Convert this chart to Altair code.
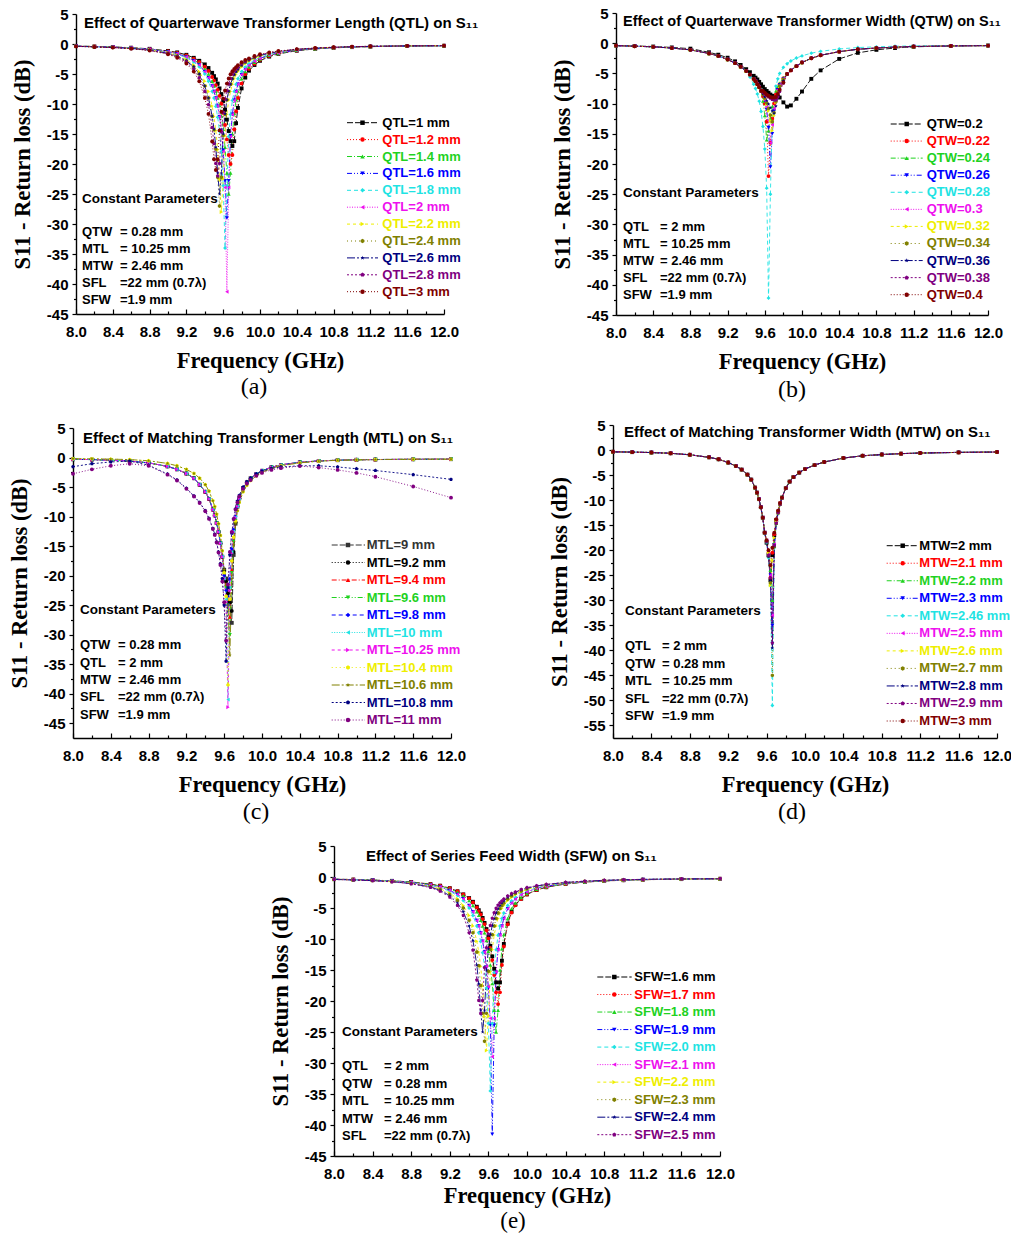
import altair as alt
import pandas as pd

# ---------------------------------------------------------------- data
FREQ = [8.0, 8.2, 8.4, 8.6, 8.8, 9.0, 9.1, 9.2, 9.28, 9.34, 9.4, 9.44, 9.48, 9.5,
        9.52, 9.54, 9.56, 9.58, 9.6, 9.62, 9.64, 9.66, 9.68, 9.7, 9.72, 9.74, 9.76,
        9.8, 9.84, 9.88, 9.94, 10.0, 10.1, 10.2, 10.4, 10.6, 10.8, 11.0, 11.2, 11.6, 12.0]
X_TICKS = [8.0, 8.4, 8.8, 9.2, 9.6, 10.0, 10.4, 10.8, 11.2, 11.6, 12.0]
X_MINOR = [8.2, 8.6, 9.0, 9.4, 9.8, 10.2, 10.6, 11.0, 11.4, 11.8]
Y_TICKS_45 = [5, 0, -5, -10, -15, -20, -25, -30, -35, -40, -45]
Y_MINOR_45 = [2.5, -2.5, -7.5, -12.5, -17.5, -22.5, -27.5, -32.5, -37.5, -42.5]
Y_TICKS_55 = [5, 0, -5, -10, -15, -20, -25, -30, -35, -40, -45, -50, -55]
Y_MINOR_55 = [2.5, -2.5, -7.5, -12.5, -17.5, -22.5, -27.5, -32.5, -37.5, -42.5, -47.5, -52.5]

# (a) Quarterwave transformer length
QTL_NAMES = ["QTL=1 mm", "QTL=1.2 mm", "QTL=1.4 mm", "QTL=1.6 mm", "QTL=1.8 mm", "QTL=2 mm",
             "QTL=2.2 mm", "QTL=2.4 mm", "QTL=2.6 mm", "QTL=2.8 mm", "QTL=3 mm"]
QTL_1 = [-0.35, -0.41, -0.5, -0.62, -0.8, -1.15, -1.4, -1.8, -2.3, -2.8, -3.4,
         -4.0, -4.8, -5.35, -5.9, -6.6, -7.4, -8.35, -9.5, -10.95, -12.6, -14.5, -16.2, -17.0, -16.2, -13.2, -10.65, -7.4, -5.6, -4.45,
         -3.5, -2.8, -2.1, -1.65, -1.12, -0.82, -0.64, -0.52, -0.44, -0.34, -0.29]
QTL_1_2 = [-0.36, -0.42, -0.51, -0.63, -0.83, -1.2, -1.47, -1.9, -2.45, -3.0, -3.8,
           -4.5, -5.5, -6.1, -6.85, -7.65, -8.65, -9.95, -11.5, -13.5, -15.9, -18.5, -20.0, -18.5, -14.2, -11.2, -9.0, -6.6, -5.0, -4.15,
           -3.3, -2.65, -2.0, -1.6, -1.08, -0.8, -0.62, -0.51, -0.43, -0.34, -0.29]
QTL_1_4 = [-0.36, -0.43, -0.52, -0.65, -0.86, -1.25, -1.55, -2.0, -2.6, -3.25, -4.2,
           -5.0, -6.2, -7.0, -7.9, -9.0, -10.25, -12.0, -14.2, -17.2, -21.5, -25.0, -21.5, -15.0, -11.6, -9.3, -7.85, -5.8, -4.6, -3.85,
           -3.05, -2.5, -1.9, -1.58, -1.05, -0.8, -0.61, -0.5, -0.42, -0.33, -0.29]
QTL_1_6 = [-0.37, -0.44, -0.53, -0.67, -0.89, -1.3, -1.62, -2.15, -2.8, -3.5, -4.6,
           -5.6, -7.0, -7.9, -9.0, -10.35, -12.1, -14.4, -17.7, -22.8, -29.0, -22.8, -15.3, -11.7, -9.35, -7.9, -6.7, -5.1, -4.2, -3.55,
           -2.85, -2.4, -1.8, -1.5, -1.02, -0.76, -0.6, -0.49, -0.41, -0.33, -0.28]
QTL_1_8 = [-0.37, -0.44, -0.54, -0.68, -0.92, -1.35, -1.7, -2.3, -3.0, -3.8, -5.0,
           -6.2, -7.9, -9.0, -10.4, -12.2, -14.5, -17.9, -23.6, -34.0, -23.6, -15.4, -11.75, -9.4, -7.9, -6.7, -5.8, -4.6, -3.85, -3.3,
           -2.67, -2.25, -1.72, -1.4, -0.98, -0.74, -0.58, -0.48, -0.4, -0.32, -0.28]
QTL_2 = [-0.37, -0.44, -0.53, -0.67, -0.89, -1.3, -1.62, -2.15, -2.8, -3.5, -4.6,
         -5.6, -7.0, -7.9, -9.0, -10.35, -12.1, -14.5, -17.9, -23.9, -41.3, -23.9, -15.4, -11.75, -9.4, -7.9, -6.7, -5.1, -4.2, -3.55,
         -2.85, -2.4, -1.8, -1.5, -1.02, -0.76, -0.6, -0.49, -0.41, -0.33, -0.28]
QTL_2_2 = [-0.38, -0.46, -0.56, -0.72, -0.99, -1.47, -1.9, -2.6, -3.5, -4.6, -6.2,
           -7.9, -10.35, -12.1, -14.4, -17.6, -22.5, -28.0, -22.5, -15.3, -11.7, -9.35, -7.9, -6.7, -5.8, -5.1, -4.6, -3.85, -3.3, -2.85,
           -2.4, -2.0, -1.6, -1.3, -0.93, -0.71, -0.56, -0.47, -0.4, -0.32, -0.28]
QTL_2_4 = [-0.39, -0.47, -0.58, -0.74, -1.03, -1.55, -2.0, -2.8, -3.8, -5.0, -7.0,
           -9.0, -12.1, -14.3, -17.5, -22.2, -27.0, -22.2, -15.2, -11.7, -9.3, -7.9, -6.7, -5.8, -5.1, -4.6, -4.2, -3.55, -3.05, -2.67,
           -2.25, -1.9, -1.55, -1.27, -0.9, -0.7, -0.55, -0.46, -0.39, -0.32, -0.28]
QTL_2_6 = [-0.39, -0.47, -0.58, -0.74, -1.03, -1.55, -2.0, -2.8, -3.8, -5.0, -7.0,
           -9.0, -12.0, -14.2, -17.2, -21.5, -25.0, -21.5, -15.0, -11.6, -9.3, -7.85, -6.7, -5.8, -5.1, -4.6, -4.2, -3.55, -3.05, -2.67,
           -2.25, -1.9, -1.55, -1.27, -0.9, -0.7, -0.55, -0.46, -0.39, -0.32, -0.28]
QTL_2_8 = [-0.4, -0.48, -0.59, -0.76, -1.07, -1.62, -2.15, -3.0, -4.2, -5.6, -7.9,
           -10.1, -13.9, -16.6, -19.9, -22.0, -19.9, -14.6, -11.4, -9.2, -7.8, -6.65, -5.75, -5.05, -4.55, -4.15, -3.85, -3.3, -2.85, -2.5,
           -2.1, -1.8, -1.45, -1.22, -0.88, -0.68, -0.54, -0.45, -0.38, -0.31, -0.28]
QTL_3 = [-0.4, -0.49, -0.6, -0.78, -1.1, -1.7, -2.3, -3.25, -4.6, -6.2, -9.0,
         -11.65, -16.25, -19.2, -21.0, -19.2, -14.4, -11.3, -9.1, -7.75, -6.6, -5.75, -5.05, -4.55, -4.15, -3.85, -3.55, -3.05, -2.67, -2.4,
         -2.0, -1.7, -1.4, -1.17, -0.85, -0.66, -0.53, -0.44, -0.38, -0.31, -0.28]

# (b) Quarterwave transformer width
QTW_NAMES = ["QTW=0.2", "QTW=0.22", "QTW=0.24", "QTW=0.26", "QTW=0.28", "QTW=0.3",
             "QTW=0.32", "QTW=0.34", "QTW=0.36", "QTW=0.38", "QTW=0.4"]
B_LEFT = [-0.4, -0.5, -0.6, -0.8, -1.1, -1.7, -2.1, -2.7, -3.3, -3.9, -4.6, -5.2, -5.9, -6.3, -6.8, -7.3, -7.9]
B_RIGHT = [-5.1, -4.5, -3.8, -3.2, -2.5, -2.0, -1.4, -1.0, -0.8, -0.65, -0.55, -0.45, -0.4]
QTW_0_2 = [-0.4, -0.45, -0.55, -0.7, -0.9, -1.5, -1.9, -2.4, -3.0, -3.6, -4.3, -4.8, -5.4, -5.7, -6.0, -6.4, -6.8,
           -7.2, -7.6, -7.9, -8.2, -8.5, -8.7, -8.8, -8.9, -8.8, -9.0, -9.8, -10.5, -10.3, -9.2, -8.0, -5.9, -4.5,
           -2.6, -1.6, -1.1, -0.8, -0.6, -0.45, -0.38]
QTW_0_22 = B_LEFT + [-8.8, -10.0, -13.0, -22.0, -16.5, -12.5, -10.0, -8.5, -7.5, -6.8, -5.8] + B_RIGHT
QTW_0_24 = B_LEFT + [-9.6, -12.0, -16.0, -14.5, -12.5, -10.5, -9.0, -7.9, -7.2, -6.6, -5.7] + B_RIGHT
QTW_0_26 = B_LEFT + [-8.6, -9.5, -11.0, -14.0, -20.5, -15.0, -11.2, -9.0, -7.7, -6.9, -5.9] + B_RIGHT
QTW_0_28 = [-0.4, -0.5, -0.6, -0.8, -1.1, -1.7, -2.1, -2.7, -3.3, -3.9, -4.6,
            -5.6, -6.8, -7.5, -8.4, -9.6, -11.3,
            -13.8, -17.5, -24.0, -42.2, -25.0, -13.0, -9.0, -7.1, -5.9, -5.0, -4.0,
            -3.4, -2.95, -2.45, -2.1, -1.65, -1.35, -0.95, -0.72, -0.6, -0.5, -0.45, -0.4, -0.37]
QTW_0_3 = B_LEFT + [-8.6, -9.4, -10.6, -12.8, -16.5, -13.5, -10.8, -8.9, -7.7, -6.9, -5.9] + B_RIGHT
QTW_0_32 = B_LEFT + [-8.5, -9.2, -10.1, -11.2, -12.8, -14.5, -12.0, -9.8, -8.2, -7.2, -6.0] + B_RIGHT
QTW_0_34 = B_LEFT + [-8.5, -9.1, -9.9, -10.8, -11.9, -13.0, -11.5, -9.6, -8.1, -7.1, -6.0] + B_RIGHT
QTW_0_36 = B_LEFT + [-8.4, -8.9, -9.5, -10.1, -10.7, -11.2, -11.6, -10.4, -8.8, -7.6, -6.2] + B_RIGHT
QTW_0_38 = B_LEFT + [-8.1, -8.4, -8.7, -8.9, -9.1, -9.3, -9.4, -9.4, -8.9, -8.0, -6.6] + B_RIGHT
QTW_0_4 = B_LEFT + [-7.9, -8.2, -8.5, -8.7, -8.9, -9.0, -9.0, -8.9, -8.4, -7.7, -6.5] + B_RIGHT

# (c) Matching transformer length
MTL_NAMES = ["MTL=9 mm", "MTL=9.2 mm", "MTL=9.4 mm", "MTL=9.6 mm", "MTL=9.8 mm", "MTL=10 mm",
             "MTL=10.25 mm", "MTL=10.4 mm", "MTL=10.6 mm", "MTL=10.8 mm", "MTL=11 mm"]
C_LEFT = [-0.3, -0.35, -0.45, -0.6, -0.9, -1.5, -2.0, -2.7, -3.5, -4.6, -5.8, -7.0, -8.8, -9.8, -11.1, -12.6, -14.5, -16.8]
C_LEFT_NARROW = [-0.2, -0.22, -0.27, -0.35, -0.55, -1.0, -1.4, -2.0, -2.7, -3.5, -4.6, -5.7, -7.3, -8.3, -9.6, -11.2, -13.2, -15.8]
C_RIGHT = [-8.3, -6.9, -5.2, -4.2, -3.5, -2.8, -2.25, -1.65, -1.25, -0.8, -0.58, -0.45, -0.38, -0.34, -0.3, -0.28]
C_RIGHT_NARROW = [-9.0, -7.6, -5.8, -4.7, -3.9, -3.1, -2.5, -1.85, -1.4, -0.9, -0.62, -0.47, -0.4, -0.35, -0.3, -0.28]
MTL_9 = C_LEFT + [-19.0, -20.5, -22.5, -24.5, -28.0, -16.5, -11.2] + C_RIGHT
MTL_9_2 = C_LEFT + [-19.2, -21.0, -23.0, -24.5, -26.0, -16.0, -11.0] + C_RIGHT
MTL_9_4 = C_LEFT + [-19.5, -21.5, -24.0, -27.0, -19.0, -14.0, -10.6] + C_RIGHT
MTL_9_6 = C_LEFT + [-19.8, -22.0, -25.0, -30.0, -19.5, -14.2, -10.7] + C_RIGHT
MTL_9_8 = C_LEFT + [-20.0, -22.5, -25.0, -20.5, -15.5, -12.2, -10.0] + C_RIGHT
MTL_10 = C_LEFT + [-20.5, -24.0, -41.0, -22.0, -16.0, -12.5, -10.1] + C_RIGHT
MTL_10_25 = C_LEFT + [-20.5, -24.5, -42.3, -22.5, -16.2, -12.6, -10.2] + C_RIGHT
MTL_10_4 = C_LEFT_NARROW + [-19.5, -23.5, -38.5, -24.0, -17.5, -13.5, -10.8] + C_RIGHT_NARROW
MTL_10_6 = C_LEFT_NARROW + [-19.0, -21.5, -25.0, -33.5, -20.5, -14.8, -11.2] + C_RIGHT_NARROW
MTL_10_8 = [-1.55, -1.05, -0.75, -0.6, -1.3, -2.8, -3.8, -5.2, -6.5, -7.6, -9.0, -10.3, -12.0, -13.0, -14.3, -16.0, -18.0, -20.5,
            -25.0, -34.5, -22.0, -16.5, -12.8, -10.4, -8.7,
            -7.4, -6.4, -5.0, -4.1, -3.5, -2.8, -2.3, -1.85, -1.6, -1.4, -1.4, -1.6, -1.9, -2.2, -2.9, -3.7]
MTL_11 = [-2.75, -2.0, -1.4, -1.05, -1.4, -2.9, -3.9, -5.3, -6.6, -7.7, -9.1, -10.4, -12.1, -13.1, -14.4, -16.1, -18.2, -21.0,
          -24.5, -31.0, -21.5, -16.0, -12.6, -10.4, -8.8,
          -7.6, -6.6, -5.3, -4.4, -3.8, -3.1, -2.6, -2.1, -1.8, -1.45, -1.7, -2.1, -2.6, -3.25, -4.9, -6.8]

# (d) Matching transformer width
MTW_NAMES = ["MTW=2 mm", "MTW=2.1 mm", "MTW=2.2 mm", "MTW=2.3 mm", "MTW=2.46 mm", "MTW=2.5 mm",
             "MTW=2.6 mm", "MTW=2.7 mm", "MTW=2.8 mm", "MTW=2.9 mm", "MTW=3 mm"]
D_LEFT = [-0.35, -0.42, -0.5, -0.65, -0.95, -1.45, -1.85, -2.5, -3.2, -3.9, -4.9, -5.9, -7.5, -8.5, -9.8, -11.4, -13.5, -16.5]
D_RIGHT = [-9.5, -7.6, -6.3, -5.4, -4.5, -3.8, -3.0, -2.4, -1.6, -1.15, -0.9, -0.72, -0.6, -0.47, -0.4]
MTW_2 = D_LEFT + [-18.5, -21.0, -26.0, -21.0, -17.0, -14.0, -12.3, -10.7] + D_RIGHT
MTW_2_1 = D_LEFT + [-18.3, -20.5, -25.5, -20.5, -16.8, -13.9, -12.2, -10.6] + D_RIGHT
MTW_2_2 = D_LEFT + [-18.0, -20.5, -24.0, -30.0, -18.5, -14.5, -12.5, -10.8] + D_RIGHT
MTW_2_3 = D_LEFT + [-18.2, -21.0, -25.0, -35.0, -19.0, -14.6, -12.5, -10.8] + D_RIGHT
MTW_2_46 = D_LEFT + [-18.5, -21.5, -27.0, -51.0, -19.5, -14.8, -12.6, -10.9] + D_RIGHT
MTW_2_5 = D_LEFT + [-18.0, -20.8, -25.0, -33.0, -18.8, -14.5, -12.4, -10.8] + D_RIGHT
MTW_2_6 = D_LEFT + [-18.0, -20.5, -27.0, -22.0, -17.5, -14.3, -12.4, -10.8] + D_RIGHT
MTW_2_7 = D_LEFT + [-18.3, -21.2, -26.5, -45.0, -19.3, -14.7, -12.6, -10.9] + D_RIGHT
MTW_2_8 = D_LEFT + [-18.4, -21.3, -26.0, -39.5, -19.2, -14.6, -12.5, -10.8] + D_RIGHT
MTW_2_9 = D_LEFT + [-18.2, -21.0, -25.5, -38.5, -19.0, -14.6, -12.5, -10.8] + D_RIGHT
MTW_3 = D_LEFT + [-18.0, -20.0, -23.0, -19.5, -16.5, -13.8, -12.1, -10.6] + D_RIGHT

# (e) Series feed width
SFW_NAMES = ["SFW=1.6 mm", "SFW=1.7 mm", "SFW=1.8 mm", "SFW=1.9 mm", "SFW=2.0 mm",
             "SFW=2.1 mm", "SFW=2.2 mm", "SFW=2.3 mm", "SFW=2.4 mm", "SFW=2.5 mm"]
SFW_1_6 = [-0.35, -0.41, -0.5, -0.62, -0.8, -1.15, -1.4, -1.8, -2.3, -2.8, -3.4,
           -4.0, -4.8, -5.35, -5.9, -6.6, -7.4, -8.4, -9.6, -11.1, -12.8, -14.8, -17.0, -18.0, -17.0, -13.5, -10.8, -7.5, -5.6, -4.45,
           -3.5, -2.8, -2.1, -1.65, -1.12, -0.82, -0.64, -0.52, -0.44, -0.34, -0.29]
SFW_1_7 = [-0.35, -0.41, -0.5, -0.62, -0.8, -1.15, -1.4, -1.8, -2.3, -2.8, -3.45,
           -4.1, -4.9, -5.5, -6.05, -6.8, -7.6, -8.6, -9.9, -11.45, -13.4, -15.8, -18.6, -20.5, -18.6, -14.2, -11.2, -7.65, -5.75, -4.55,
           -3.55, -2.83, -2.1, -1.65, -1.12, -0.82, -0.64, -0.52, -0.44, -0.34, -0.29]
SFW_1_8 = [-0.36, -0.42, -0.51, -0.63, -0.83, -1.2, -1.47, -1.9, -2.45, -3.0, -3.8,
           -4.6, -5.6, -6.2, -7.0, -7.9, -9.0, -10.25, -12.0, -14.2, -17.2, -21.5, -25.0, -21.5, -15.0, -11.6, -9.3, -6.7, -5.1, -4.2,
           -3.3, -2.67, -2.0, -1.6, -1.08, -0.8, -0.62, -0.51, -0.43, -0.34, -0.29]
SFW_1_9 = [-0.37, -0.44, -0.53, -0.67, -0.89, -1.3, -1.62, -2.15, -2.8, -3.5, -4.6,
           -5.6, -7.0, -7.9, -9.0, -10.35, -12.1, -14.5, -17.9, -23.9, -41.5, -23.9, -15.4, -11.75, -9.4, -7.9, -6.7, -5.1, -4.2, -3.55,
           -2.85, -2.4, -1.8, -1.5, -1.02, -0.76, -0.6, -0.49, -0.41, -0.33, -0.28]
SFW_2_0 = [-0.37, -0.44, -0.54, -0.68, -0.92, -1.35, -1.7, -2.3, -3.0, -3.8, -5.0,
           -6.2, -7.9, -9.0, -10.4, -12.2, -14.5, -17.9, -23.6, -34.5, -23.6, -15.4, -11.75, -9.4, -7.9, -6.7, -5.8, -4.6, -3.85, -3.3,
           -2.67, -2.25, -1.72, -1.4, -0.98, -0.74, -0.58, -0.48, -0.4, -0.32, -0.28]
SFW_2_1 = [-0.37, -0.44, -0.53, -0.67, -0.89, -1.3, -1.62, -2.15, -2.8, -3.5, -4.6,
           -5.6, -7.0, -7.9, -9.0, -10.35, -12.1, -14.4, -17.7, -22.8, -29.0, -22.8, -15.3, -11.7, -9.35, -7.9, -6.7, -5.1, -4.2, -3.55,
           -2.85, -2.4, -1.8, -1.5, -1.02, -0.76, -0.6, -0.49, -0.41, -0.33, -0.28]
SFW_2_2 = [-0.38, -0.46, -0.56, -0.72, -0.99, -1.47, -1.9, -2.6, -3.5, -4.6, -6.2,
           -7.9, -10.35, -12.1, -14.4, -17.6, -22.5, -28.0, -22.5, -15.3, -11.7, -9.35, -7.9, -6.7, -5.8, -5.1, -4.6, -3.85, -3.3, -2.85,
           -2.4, -2.0, -1.6, -1.3, -0.93, -0.71, -0.56, -0.47, -0.4, -0.32, -0.28]
SFW_2_3 = [-0.39, -0.47, -0.58, -0.74, -1.03, -1.55, -2.0, -2.8, -3.8, -5.0, -7.0,
           -9.0, -12.1, -14.3, -17.5, -22.0, -26.5, -22.0, -15.2, -11.7, -9.3, -7.9, -6.7, -5.8, -5.1, -4.6, -4.2, -3.55, -3.05, -2.67,
           -2.25, -1.9, -1.55, -1.27, -0.9, -0.7, -0.55, -0.46, -0.39, -0.32, -0.28]
SFW_2_4 = [-0.4, -0.48, -0.59, -0.76, -1.07, -1.62, -2.15, -3.0, -4.2, -5.6, -7.9,
           -10.25, -14.2, -17.2, -21.5, -25.0, -21.5, -15.0, -11.6, -9.3, -7.85, -6.7, -5.8, -5.1, -4.6, -4.2, -3.85, -3.3, -2.85, -2.5,
           -2.1, -1.8, -1.45, -1.22, -0.88, -0.68, -0.54, -0.45, -0.38, -0.31, -0.28]
SFW_2_5 = [-0.4, -0.49, -0.6, -0.78, -1.1, -1.7, -2.3, -3.25, -4.6, -6.2, -9.0,
           -11.8, -16.6, -19.9, -22.0, -19.9, -14.6, -11.4, -9.2, -7.8, -6.65, -5.75, -5.05, -4.55, -4.15, -3.85, -3.55, -3.05, -2.67, -2.4,
           -2.0, -1.7, -1.4, -1.17, -0.85, -0.66, -0.53, -0.44, -0.38, -0.31, -0.28]

# ---------------------------------------------------------------- styles
BLACK, DARK, RED, GREEN, BLUE = "#000000", "#333333", "#ff0000", "#1fd21f", "#0000ff"
CYAN, MAGENTA, YELLOW, OLIVE = "#1fe3e3", "#ee11ee", "#eeee00", "#808000"
NAVY, PURPLE, WINE = "#000080", "#800080", "#800000"
HEX = "M0,-1L0.87,-0.5L0.87,0.5L0,1L-0.87,0.5L-0.87,-0.5Z"
STAR = "M0,-1L0.24,-0.32L0.95,-0.31L0.38,0.12L0.59,0.81L0,0.4L-0.59,0.81L-0.38,0.12L-0.95,-0.31L-0.24,-0.32Z"
PENT = "M0,-1L0.95,-0.31L0.59,0.81L-0.59,0.81L-0.95,-0.31Z"
STD_COLORS = [BLACK, RED, GREEN, BLUE, CYAN, MAGENTA, YELLOW, OLIVE, NAVY, PURPLE, WINE]
MTL_COLORS = [DARK, BLACK, RED, GREEN, BLUE, CYAN, MAGENTA, YELLOW, OLIVE, NAVY, PURPLE]
STD_SHAPES = ["square", "circle", "triangle-up", "triangle-down", "diamond", "triangle-left",
              "triangle-right", HEX, STAR, PENT, "circle"]
STD_DASHES = [[6, 2], [1, 2], [5, 2, 1, 2], [5, 2, 1, 2, 1, 2], [4, 3], [1, 1.5], [3, 3],
              [1, 3], [8, 2, 2, 2], [2, 2], [1, 2]]

FONT_SANS = "Liberation Sans"
FONT_SERIF = "Liberation Serif"
CH_W, CH_H = 1003, 1225

PANELS = [
    dict(names=QTL_NAMES,
         values=[QTL_1, QTL_1_2, QTL_1_4, QTL_1_6, QTL_1_8, QTL_2, QTL_2_2, QTL_2_4, QTL_2_6, QTL_2_8, QTL_3],
         colors=STD_COLORS, xr=[68, 436], ydom=[-45, 5], yr=[306, 6], yt=Y_TICKS_45, ym=Y_MINOR_45, xtp=10,
         title="Effect of  Quarterwave Transformer Length (QTL) on S\u2081\u2081", tpos=(76, 15), tfs=15,
         cp=(74, 191), pn="QTW\nMTL\nMTW\nSFL\nSFW",
         pv="= 0.28 mm\n= 10.25 mm\n= 2.46 mm\n=22 mm (0.7\u03bb)\n=1.9 mm", pxy=(74, 112, 218.4), plh=17,
         ly=[114.7, 283.7], lt=374.3, ll=(339, 370), lm=354.5, cap="(a)", cpos=(246, 379), cbase="middle", cfs=24),
    dict(names=QTW_NAMES,
         values=[QTW_0_2, QTW_0_22, QTW_0_24, QTW_0_26, QTW_0_28, QTW_0_3, QTW_0_32, QTW_0_34, QTW_0_36, QTW_0_38, QTW_0_4],
         colors=STD_COLORS, xr=[608, 980], ydom=[-45, 5], yr=[307, 5], yt=Y_TICKS_45, ym=Y_MINOR_45, xtp=10,
         title="Effect of  Quarterwave Transformer Width (QTW) on S\u2081\u2081", tpos=(615, 14), tfs=14.5,
         cp=(615, 185), pn="QTL\nMTL\nMTW\nSFL\nSFW",
         pv="= 2 mm\n= 10.25 mm\n= 2.46 mm\n=22 mm (0.7\u03bb)\n=1.9 mm", pxy=(615, 652, 213.4), plh=17,
         ly=[116, 286.7], lt=918.7, ll=(882.7, 914.7), lm=898.7, cap="(b)", cpos=(784, 382), cbase="middle", cfs=24),
    dict(names=MTL_NAMES,
         values=[MTL_9, MTL_9_2, MTL_9_4, MTL_9_6, MTL_9_8, MTL_10, MTL_10_25, MTL_10_4, MTL_10_6, MTL_10_8, MTL_11],
         colors=MTL_COLORS, xr=[65, 443], ydom=[-47.5, 5], yr=[730, 420], yt=Y_TICKS_45, ym=Y_MINOR_45, xtp=10,
         title="Effect of  Matching Transformer Length (MTL) on S\u2081\u2081", tpos=(75, 430.3), tfs=15,
         cp=(72, 602), pn="QTW\nQTL\nMTW\nSFL\nSFW",
         pv="= 0.28 mm\n= 2 mm\n= 2.46 mm\n=22 mm (0.7\u03bb)\n=1.9 mm", pxy=(72, 110, 631.4), plh=17.3,
         ly=[537, 712], lt=358.7, ll=(323.7, 357), lm=340, cap="(c)", cpos=(248, 804), cbase="middle", cfs=24),
    dict(names=MTW_NAMES,
         values=[MTW_2, MTW_2_1, MTW_2_2, MTW_2_3, MTW_2_46, MTW_2_5, MTW_2_6, MTW_2_7, MTW_2_8, MTW_2_9, MTW_3],
         colors=STD_COLORS, xr=[605, 989], ydom=[-57.5, 5], yr=[730, 417], yt=Y_TICKS_55, ym=Y_MINOR_55, xtp=10,
         title="Effect of  Matching Transformer Width (MTW) on S\u2081\u2081", tpos=(616, 424.3), tfs=15,
         cp=(617, 603), pn="QTL\nQTW\nMTL\nSFL\nSFW",
         pv="= 2 mm\n= 0.28 mm\n= 10.25 mm\n=22 mm (0.7\u03bb)\n=1.9 mm", pxy=(617, 654, 632.4), plh=17.5,
         ly=[537.7, 713], lt=911.3, ll=(878.7, 910), lm=894.7, cap="(d)", cpos=(784, 804), cbase="middle", cfs=24),
    dict(names=SFW_NAMES,
         values=[SFW_1_6, SFW_1_7, SFW_1_8, SFW_1_9, SFW_2_0, SFW_2_1, SFW_2_2, SFW_2_3, SFW_2_4, SFW_2_5],
         colors=STD_COLORS[:10], xr=[326, 712], ydom=[-45, 5], yr=[1148, 838], yt=Y_TICKS_45, ym=Y_MINOR_45, xtp=3,
         title="Effect of  Series Feed Width (SFW) on S\u2081\u2081", tpos=(358, 847.7), tfs=15,
         cp=(334, 1024), pn="QTL\nQTW\nMTL\nMTW\nSFL",
         pv="= 2 mm\n= 0.28 mm\n= 10.25 mm\n= 2.46 mm\n=22 mm (0.7\u03bb)", pxy=(334, 376, 1052.4), plh=17.5,
         ly=[969, 1126.7], lt=626.3, ll=(589.3, 623.7), lm=606.3, cap="(e)", cpos=(505, 1220), cbase="alphabetic", cfs=23),
]

ALL_NAMES, ALL_COLORS, ALL_SHAPES, ALL_DASHES = [], [], [], []
for p in PANELS:
    n = len(p["names"])
    ALL_NAMES += p["names"]
    ALL_COLORS += p["colors"]
    ALL_SHAPES += STD_SHAPES[:n]
    ALL_DASHES += STD_DASHES[:n]

COLOR = alt.Color("series:N", scale=alt.Scale(domain=ALL_NAMES, range=ALL_COLORS), legend=None)
SHAPE = alt.Shape("series:N", scale=alt.Scale(domain=ALL_NAMES, range=ALL_SHAPES), legend=None)
DASH = alt.StrokeDash("series:N", scale=alt.Scale(domain=ALL_NAMES, range=ALL_DASHES), legend=None)


def text_layer(s, x, y, **kw):
    return alt.Chart(pd.DataFrame({"t": [s]})).mark_text(**kw).encode(
        x=alt.value(x), y=alt.value(y), text="t:N")


def panel_layers(p):
    rows = []
    for name, vals in zip(p["names"], p["values"]):
        assert len(vals) == len(FREQ), name
        for f, v in zip(FREQ, vals):
            rows.append({"series": name, "freq": f, "s11": v})
    df = pd.DataFrame(rows)
    xs = alt.Scale(domain=[8.0, 12.0], range=p["xr"], nice=False, zero=False)
    ys = alt.Scale(domain=p["ydom"], range=p["yr"], nice=False, zero=False)
    xoff = p["yr"][0] - CH_H          # bottom-oriented axis placed on the panel's base line
    xtop = -p["yr"][0]                # top-oriented axis (inward ticks) on the same line
    yoff = -p["xr"][0]
    x_main = alt.X("freq:Q", scale=xs, axis=alt.Axis(
        orient="bottom", values=X_TICKS, labelExpr="format(datum.value, '.1f')", title="Frequency (GHz)",
        offset=xoff, ticks=False, labelPadding=10, titlePadding=p["xtp"], labelFlush=False, labelOverlap=False))
    y_main = alt.Y("s11:Q", scale=ys, axis=alt.Axis(
        orient="left", values=p["yt"], labelExpr="datum.value + ''", title="S11 - Return loss (dB)",
        offset=yoff, tickSize=4, labelPadding=4, titlePadding=12, labelFlush=False, labelOverlap=False))
    x_major_in = alt.X("freq:Q", scale=xs, axis=alt.Axis(
        orient="top", values=X_TICKS, labels=False, domain=False, tickSize=5, title=None, offset=xtop))
    x_minor_in = alt.X("freq:Q", scale=xs, axis=alt.Axis(
        orient="top", values=X_MINOR, labels=False, domain=False, tickSize=3, title=None, offset=xtop))
    y_minor = alt.Y("s11:Q", scale=ys, axis=alt.Axis(
        orient="left", values=p["ym"], labels=False, domain=False, tickSize=2.5, title=None, offset=yoff))

    lines = alt.Chart(df).mark_line(strokeWidth=0.9).encode(
        x=x_main, y=y_main, color=COLOR, strokeDash=DASH, order=alt.Order("freq:Q"))
    pts = alt.Chart(df).mark_point(filled=True, size=15, opacity=1).encode(
        x=x_major_in, y=y_minor, color=COLOR, shape=SHAPE)
    ticks_layer = alt.Chart(pd.DataFrame({"freq": [8.0, 12.0]})).mark_point(opacity=0).encode(
        x=x_minor_in, y=alt.value(0))

    ldf = pd.DataFrame({"series": p["names"]})
    ly = alt.Y("series:N", scale=alt.Scale(type="point", domain=p["names"], range=p["ly"], padding=0), axis=None)
    lrule = alt.Chart(ldf).mark_rule(strokeWidth=1).encode(
        x=alt.value(p["ll"][0]), x2=alt.value(p["ll"][1]), y=ly, color=COLOR, strokeDash=DASH)
    lpt = alt.Chart(ldf).mark_point(filled=True, size=20, opacity=1).encode(
        x=alt.value(p["lm"]), y=ly, color=COLOR, shape=SHAPE)
    ltxt = alt.Chart(ldf).mark_text(align="left", baseline="middle", font=FONT_SANS,
                                    fontSize=13, fontWeight="bold").encode(
        x=alt.value(p["lt"]), y=ly, text="series:N", color=COLOR)

    sans = dict(font=FONT_SANS, fontWeight="bold", color="black", align="left")
    title = text_layer(p["title"], p["tpos"][0], p["tpos"][1], baseline="middle", fontSize=p["tfs"], **sans)
    cp = text_layer("Constant Parameters", p["cp"][0], p["cp"][1], baseline="middle", fontSize=13.5, **sans)
    pn = text_layer(p["pn"], p["pxy"][0], p["pxy"][2], baseline="top", fontSize=13,
                    lineBreak="\n", lineHeight=p["plh"], **sans)
    pv = text_layer(p["pv"], p["pxy"][1], p["pxy"][2], baseline="top", fontSize=13,
                    lineBreak="\n", lineHeight=p["plh"], **sans)
    cap = text_layer(p["cap"], p["cpos"][0], p["cpos"][1], baseline=p["cbase"], align="center",
                     font=FONT_SERIF, fontSize=p["cfs"], color="black")
    return [lines, pts, ticks_layer, lrule, lpt, ltxt, title, cp, pn, pv, cap]


layers = []
for p in PANELS:
    layers += panel_layers(p)

chart = alt.layer(*layers).resolve_scale(
    x="independent", y="independent"
).properties(
    width=CH_W, height=CH_H, padding=0, autosize=alt.AutoSizeParams(type="none")
).configure_view(stroke=None).configure_axis(
    grid=False, domainColor="black", domainWidth=1.4, tickColor="black", tickWidth=1.2,
    labelColor="black", labelFont=FONT_SANS, labelFontSize=15, labelFontWeight="bold",
    titleColor="black", titleFont=FONT_SERIF, titleFontSize=22.5, titleFontWeight="bold"
)

chart.save("out.html", embed_options={"renderer": "svg", "actions": False})
